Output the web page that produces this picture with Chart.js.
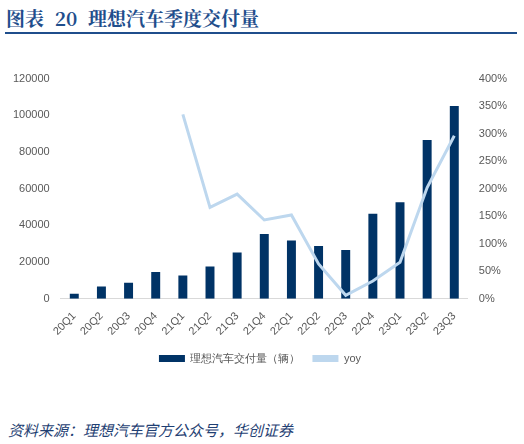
<!DOCTYPE html>
<html><head><meta charset="utf-8">
<script src="https://cdn.jsdelivr.net/npm/chart.js@4/dist/chart.umd.min.js"></script>
<style>
body{margin:0;background:#fff;width:524px;height:444px;overflow:hidden;font-family:"Noto Sans CJK SC",sans-serif}
#title{position:absolute;left:6px;top:4px;font-size:19px;font-weight:bold;color:#1f4e8c;font-family:"Noto Serif CJK SC","Noto Sans CJK SC",serif;word-spacing:6px}
#rule{position:absolute;left:5px;top:32px;width:512px;height:2px;background:#1f4e8c}
#wrap{position:absolute;left:10px;top:69px;width:500px;height:305px}
#src{position:absolute;left:8px;top:419px;font-size:15px;font-style:italic;color:#1f3f73}
</style></head><body>
<div id="title">图表 20 理想汽车季度交付量</div>
<div id="rule"></div>
<div id="wrap"><canvas id="c"></canvas></div>
<div id="src">资料来源：理想汽车官方公众号，华创证券</div>
<script>
const quarters = ['20Q1','20Q2','20Q3','20Q4','21Q1','21Q2','21Q3','21Q4','22Q1','22Q2','22Q3','22Q4','23Q1','23Q2','23Q3'];
const deliveries = [2600,6600,8660,14464,12579,17575,25116,35221,31716,28687,26524,46319,52584,86533,105108];
const yoy = [null,null,null,null,335,166,190,143,152,63,6,32,66,202,296];

new Chart(document.getElementById('c'), {
  data: {
    labels: quarters,
    datasets: [
      { type: 'bar', label: '理想汽车交付量（辆）', data: deliveries, yAxisID: 'y', backgroundColor: '#003366',
        barPercentage: 0.6, categoryPercentage: 0.55, order: 1 },
      { type: 'line', label: 'yoy', data: yoy, yAxisID: 'y1', borderColor: '#bdd7ee', backgroundColor: '#bdd7ee',
        borderWidth: 3, pointRadius: 0, tension: 0, order: 0 }
    ]
  },
  options: {
    responsive: true, maintainAspectRatio: false, animation: false,
    scales: {
      x: { grid: { display: false }, border: { color: '#d9d9d9' },
           ticks: { color: '#595959', font: { size: 11 }, maxRotation: 45, minRotation: 45 } },
      y: { position: 'left', min: 0, max: 120000, grid: { display: false }, border: { display: false },
           ticks: { stepSize: 20000, color: '#595959', font: { size: 11 }, callback: v => String(v) } },
      y1: { position: 'right', min: 0, max: 400, grid: { display: false }, border: { display: false },
            ticks: { stepSize: 50, color: '#595959', font: { size: 11 }, callback: v => v + '%' } }
    },
    plugins: {
      legend: { position: 'bottom',
        labels: { color: '#595959', font: { size: 11 }, boxWidth: 26, boxHeight: 7, padding: 12,
          generateLabels: ch => ch.data.datasets.map((d, i) => ({ text: d.label, fillStyle: d.backgroundColor,
            strokeStyle: d.backgroundColor, lineWidth: 0, datasetIndex: i, fontColor: '#595959' })) } },
      tooltip: { enabled: false }
    }
  }
});
</script>
</body></html>
